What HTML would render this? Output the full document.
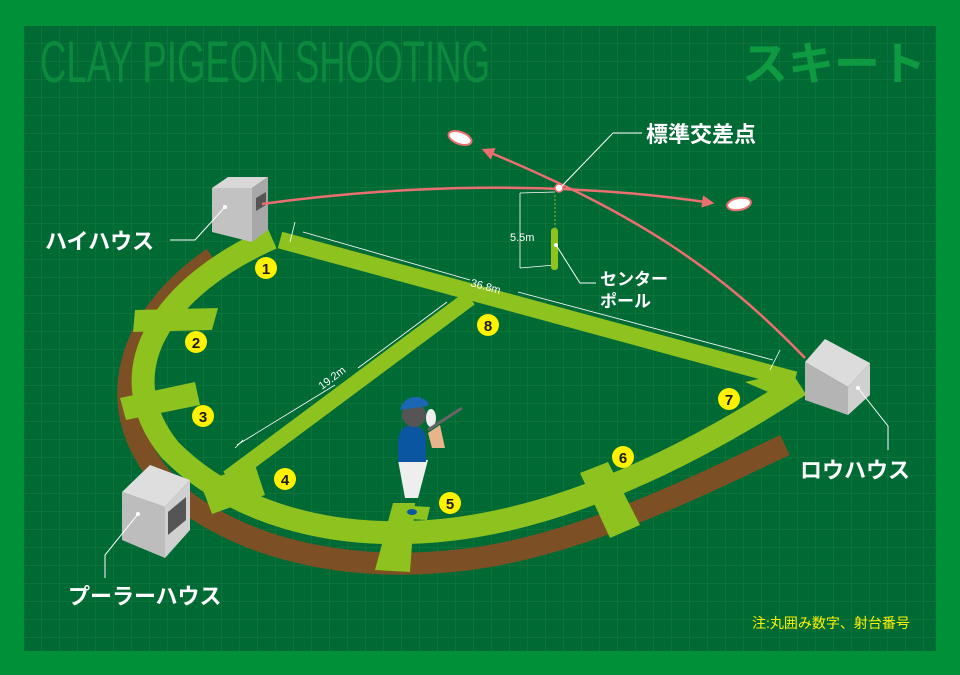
<!DOCTYPE html>
<html><head><meta charset="utf-8"><style>
html,body{margin:0;padding:0;background:#009138;}
svg{display:block}
text{font-family:"Liberation Sans","Noto Sans CJK JP",sans-serif;}
</style></head><body>
<svg width="960" height="675" viewBox="0 0 960 675" xmlns="http://www.w3.org/2000/svg">
<defs>
<pattern id="g" x="24" y="26" width="18" height="18" patternUnits="userSpaceOnUse">
<path d="M18 0V18M0 18H18" stroke="#1d7a42" stroke-width="1" fill="none"/>
</pattern>
<marker id="ar" viewBox="0 0 10 10" refX="8" refY="5" markerWidth="5" markerHeight="5" orient="auto"><path d="M0 0L10 5L0 10z" fill="#ec6f70"/></marker>
</defs>
<rect width="960" height="675" fill="#009138"/>
<rect x="24" y="26" width="912" height="625" fill="#006a35"/>
<rect x="24" y="26" width="912" height="625" fill="url(#g)"/>
<text x="40" y="82" font-size="58" fill="#0b8a3d" transform="translate(40 0) scale(0.7 1) translate(-40 0)" textLength="643" lengthAdjust="spacingAndGlyphs">CLAY PIGEON SHOOTING</text>
<text x="742" y="80" font-size="46" font-weight="bold" fill="#0d9a40">スキート</text>

<!-- brown -->
<path d="M213,258 C115,325 95,430 190,505 C270,560 370,568 440,562 C560,555 690,490 785,445" stroke="#7d4f24" stroke-width="22" fill="none"/>
<!-- track -->
<path d="M272,238 C165,285 105,370 170,450 C235,515 330,537 420,532 C560,525 700,450 800,385" stroke="#8dc21f" stroke-width="23" fill="none"/>
<path d="M280,240 L795,380" stroke="#8dc21f" stroke-width="17"/>
<path d="M470,298 L228,478" stroke="#8dc21f" stroke-width="16"/>
<!-- cross bars -->
<path d="M135,310 L218,308 L212,330 L133,332z" fill="#8dc21f"/>
<path d="M120,398 L195,382 L200,405 L126,420z" fill="#8dc21f"/>
<path d="M200,482 L255,465 L265,495 L212,514z" fill="#8dc21f"/>
<path d="M393,503 L415,503 L410,572 L375,570z" fill="#8dc21f"/>
<path d="M395,505 L430,507 L427,520 L390,518z" fill="#8dc21f"/>
<path d="M580,473 L608,462 L640,525 L610,538z" fill="#8dc21f"/>
<path d="M745,382 L790,372 L775,395 z" fill="#8dc21f"/>
<!-- dimension lines -->
<g stroke="#fff" stroke-width="0.8" fill="none">
<path d="M303,232 L470,280 M518,292 L773,360"/>
<path d="M295,222 L290,242 M780,350 L770,370"/>
<path d="M447,302 L358,368 M335,385 L237,445"/>
<path d="M243,440 L235,448"/>
<path d="M555,192 L520,193 M520,193 L520,268 M520,268 L555,265"/>
</g>
<text x="470" y="286" font-size="11" fill="#fff" transform="rotate(15 470 286)">36.8m</text>
<text x="322" y="390" font-size="11" fill="#fff" transform="rotate(-37 322 390)">19.2m</text>
<text x="510" y="241" font-size="11" fill="#fff">5.5m</text>
<line x1="555" y1="195" x2="555" y2="230" stroke="#8dc21f" stroke-width="1" stroke-dasharray="2 2"/>
<rect x="551" y="228" width="7" height="42" rx="3" fill="#8dc21f"/>
<!-- high house -->
<path d="M212,188 L228,177 L268,177 L252,188z" fill="#d8d8d8"/>
<path d="M212,188 L252,188 L252,242 L212,232z" fill="#c2c2c2"/>
<path d="M252,188 L268,177 L268,230 L252,242z" fill="#a8a8a8"/>
<path d="M256,198 L266,192 L266,205 L256,211z" fill="#555"/>
<!-- low house -->
<path d="M805,362 L825,339 L870,363 L848,387z" fill="#dcdcdc"/>
<path d="M805,362 L848,387 L848,415 L805,400z" fill="#b4b4b4"/>
<path d="M848,387 L870,363 L870,395 L848,415z" fill="#d0d0d0"/>
<!-- puller house -->
<path d="M122,492 L150,465 L190,480 L165,507z" fill="#dedede"/>
<path d="M122,492 L165,507 L165,558 L122,540z" fill="#bdbdbd"/>
<path d="M165,507 L190,480 L190,530 L165,558z" fill="#d0d0d0"/>
<path d="M168,512 L186,497 L186,520 L168,535z" fill="#555"/>
<!-- red trajectories -->
<path d="M262,204 C400,185 560,180 712,203" stroke="#ec6f70" stroke-width="2.5" fill="none" marker-end="url(#ar)"/>
<path d="M805,358 C720,270 640,215 484,150" stroke="#ec6f70" stroke-width="2.5" fill="none" marker-end="url(#ar)"/>
<circle cx="559" cy="188" r="4" fill="#fff" stroke="#ec6f70" stroke-width="1.5"/>
<ellipse cx="460" cy="138" rx="12" ry="6" fill="#fff" stroke="#ec6f70" stroke-width="2" transform="rotate(20 460 138)"/>
<ellipse cx="739" cy="204" rx="12" ry="6" fill="#fff" stroke="#ec6f70" stroke-width="2" transform="rotate(-10 739 204)"/>
<!-- leader lines -->
<g stroke="#fff" stroke-width="1" fill="none">
<path d="M560,188 L613,133 L642,133"/>
<path d="M556,245 L580,283 L596,283"/>
<path d="M225,207 L195,240 L170,240"/>
<path d="M858,388 L888,426 L888,450"/>
<path d="M138,514 L105,555 L105,578"/>
</g>
<g fill="#fff"><circle cx="225" cy="207" r="2"/><circle cx="556" cy="245" r="2"/><circle cx="858" cy="388" r="2"/><circle cx="138" cy="514" r="2"/></g>
<!-- shooter -->
<path d="M405,498 L418,498 L428,460 L398,460z" fill="#eee"/>
<ellipse cx="412" cy="512" rx="5" ry="3" fill="#0b56a0"/>
<path d="M398,462 L398,440 Q400,425 413,425 Q426,428 426,440 L426,462z" fill="#0b56a0"/>
<circle cx="414" cy="415" r="12" fill="#555"/>
<path d="M400,410 Q404,396 418,397 Q430,400 428,406z" fill="#1b67b3"/>
<ellipse cx="431" cy="418" rx="5" ry="9" fill="#eee"/>
<path d="M428,430 L462,408" stroke="#666" stroke-width="3"/>
<path d="M428,433 L440,425 L445,448 L432,448z" fill="#e8b48c"/>
<!-- numbers -->
<g fill="#fff200">
<circle cx="266" cy="268" r="11"/><circle cx="196" cy="342" r="11"/><circle cx="203" cy="416" r="11"/><circle cx="285" cy="479" r="11"/>
<circle cx="450" cy="503" r="11"/><circle cx="623" cy="457" r="11"/><circle cx="729" cy="399" r="11"/><circle cx="488" cy="325" r="11"/>
</g>
<g fill="#1a1a1a" font-size="15" font-weight="bold" text-anchor="middle">
<text x="266" y="274">1</text><text x="196" y="348">2</text><text x="203" y="422">3</text><text x="285" y="485">4</text>
<text x="450" y="509">5</text><text x="623" y="463">6</text><text x="729" y="405">7</text><text x="488" y="331">8</text>
</g>
<!-- labels -->
<g fill="#fff" font-weight="bold">
<text x="646" y="142" font-size="22">標準交差点</text>
<text x="45" y="249" font-size="22">ハイハウス</text>
<text x="600" y="285" font-size="17">センター</text>
<text x="600" y="307" font-size="17">ポール</text>
<text x="800" y="478" font-size="22">ロウハウス</text>
<text x="68" y="604" font-size="22">プーラーハウス</text>
</g>
<text x="752" y="628" font-size="14" fill="#fff200">注:丸囲み数字、射台番号</text>
</svg>
</body></html>
